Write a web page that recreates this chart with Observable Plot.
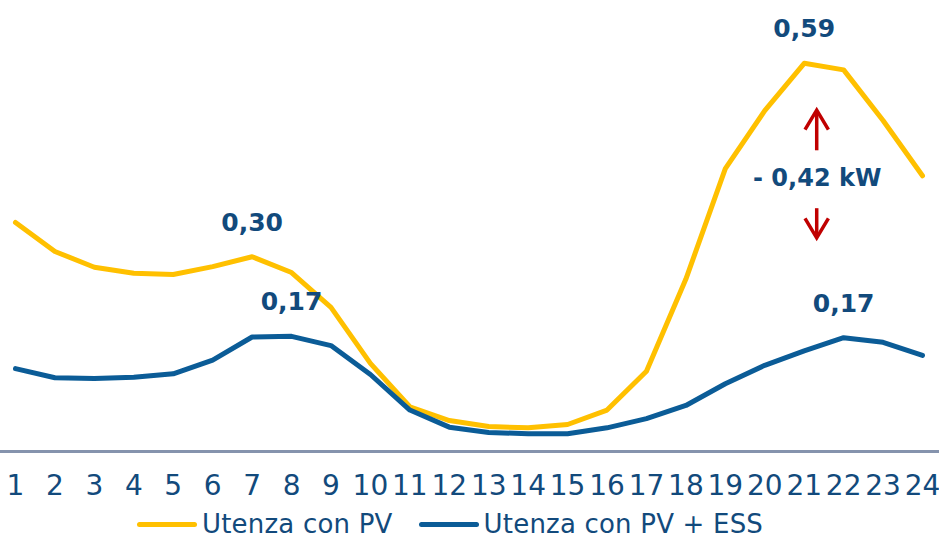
<!DOCTYPE html>
<html><head><meta charset="utf-8">
<script src="https://cdn.jsdelivr.net/npm/d3@7"></script>
<script src="https://cdn.jsdelivr.net/npm/@observablehq/plot@0.6"></script>
<style>
body{margin:0;background:#fff;width:939px;height:538px;overflow:hidden;position:relative;font-family:"DejaVu Sans",sans-serif;}
#chart{position:absolute;left:0;top:0;}
#legend{position:absolute;left:137px;top:511px;height:26px;display:flex;align-items:center;font-size:26px;line-height:26px;letter-spacing:0.2px;color:#124a7c;white-space:nowrap}
.sw{width:60px;height:5px;border-radius:3px;margin-right:5px}
.item{display:flex;align-items:center;margin-right:26px}
</style></head><body><div id="chart"></div><div id="legend"></div>
<script>
// ---- data ----
const hours = [1,2,3,4,5,6,7,8,9,10,11,12,13,14,15,16,17,18,19,20,21,22,23,24];
const pv    = [0.348,0.304,0.280,0.271,0.269,0.281,0.296,0.272,0.219,0.134,0.068,0.047,0.038,0.036,0.041,0.063,0.122,0.262,0.430,0.518,0.590,0.580,0.503,0.419];
const pvEss = [0.126,0.112,0.111,0.113,0.118,0.139,0.174,0.175,0.161,0.117,0.063,0.037,0.029,0.027,0.027,0.036,0.050,0.070,0.103,0.131,0.153,0.173,0.166,0.146];
const seriesNames  = ["Utenza con PV", "Utenza con PV + ESS"];
const seriesColors = ["#FFC000", "#0B5C97"];
const peakLabels = ["0,30", "0,17", "0,59", "0,17"];
const peakHours  = [7, 8, 21, 22];
const peakSeries = [0, 1, 0, 1];
const deltaLabel = "- 0,42 kW";
const deltaHour  = 21.33;
const deltaValue = 0.415;
const arrowFrom  = [0.457, 0.369];
const arrowTo    = [0.518, 0.324];

const textColor = "#124a7c";
const arrowColor = "#C00000";
const series = [pv, pvEss];

const rows = [];
series.forEach((vals, s) => hours.forEach((h, i) => rows.push({hour: h, value: vals[i], s: seriesNames[s]})));
const peaks = peakHours.map((h, i) => ({hour: h, value: series[peakSeries[i]][hours.indexOf(h)], label: peakLabels[i]}));
const arrows = arrowFrom.map((a, i) => ({x: deltaHour, y1: a, y2: arrowTo[i]}));

// custom arrow mark drawn through Plot's scales
function arrowMark(index, scales) {
  const g = d3.create("svg:g").attr("fill", "none").attr("stroke", arrowColor).attr("stroke-width", 3.5);
  for (const a of arrows) {
    const x = scales.x(a.x), yb = scales.y(a.y1), yt = scales.y(a.y2);
    const dir = yt < yb ? 1 : -1; // 1: pointing up
    const wx = 11.7, wy = 19.5 * dir;
    g.append("path").attr("d", `M${x},${yb}L${x},${yt + dir * 1.5}`);
    g.append("path").attr("stroke-linejoin", "miter")
      .attr("d", `M${x - wx},${yt + wy}L${x},${yt}L${x + wx},${yt + wy}`);
  }
  return g.node();
}

const chart = Plot.plot({
  width: 939,
  height: 505,
  marginLeft: 0,
  marginRight: 0,
  marginTop: 0,
  marginBottom: 54,
  style: {fontFamily: "DejaVu Sans, sans-serif", color: textColor, background: "#fff"},
  x: {domain: [1, 24], range: [15, 922], label: null},
  y: {domain: [0, 0.6], range: [451, 56.2], axis: null, label: null},
  color: {domain: seriesNames, range: seriesColors},
  marks: [
    Plot.axisX(hours, {tickSize: 0, tickPadding: 24, fontSize: 28, tickFormat: d => String(d), fill: textColor, label: null}),
    Plot.ruleY([0], {stroke: "#8593AD", strokeWidth: 3}),
    Plot.line(rows, {x: "hour", y: "value", z: "s", stroke: "s", strokeWidth: 5, strokeLinejoin: "round", strokeLinecap: "round"}),
    Plot.text(peaks, {x: "hour", y: "value", text: "label", dy: -34, fontSize: 25, fontWeight: "bold", fill: textColor}),
    Plot.text([deltaLabel], {x: deltaHour, y: deltaValue, text: d => d, fontSize: 24, fontWeight: "bold", fill: textColor}),
    arrowMark
  ]
});
document.getElementById("chart").appendChild(chart);

const legend = document.getElementById("legend");
seriesNames.forEach((n, i) => {
  const it = document.createElement("div");
  it.className = "item";
  const sw = document.createElement("div");
  sw.className = "sw";
  sw.style.background = seriesColors[i];
  const t = document.createElement("span");
  t.textContent = n;
  it.appendChild(sw); it.appendChild(t);
  legend.appendChild(it);
});
</script>
</body></html>
